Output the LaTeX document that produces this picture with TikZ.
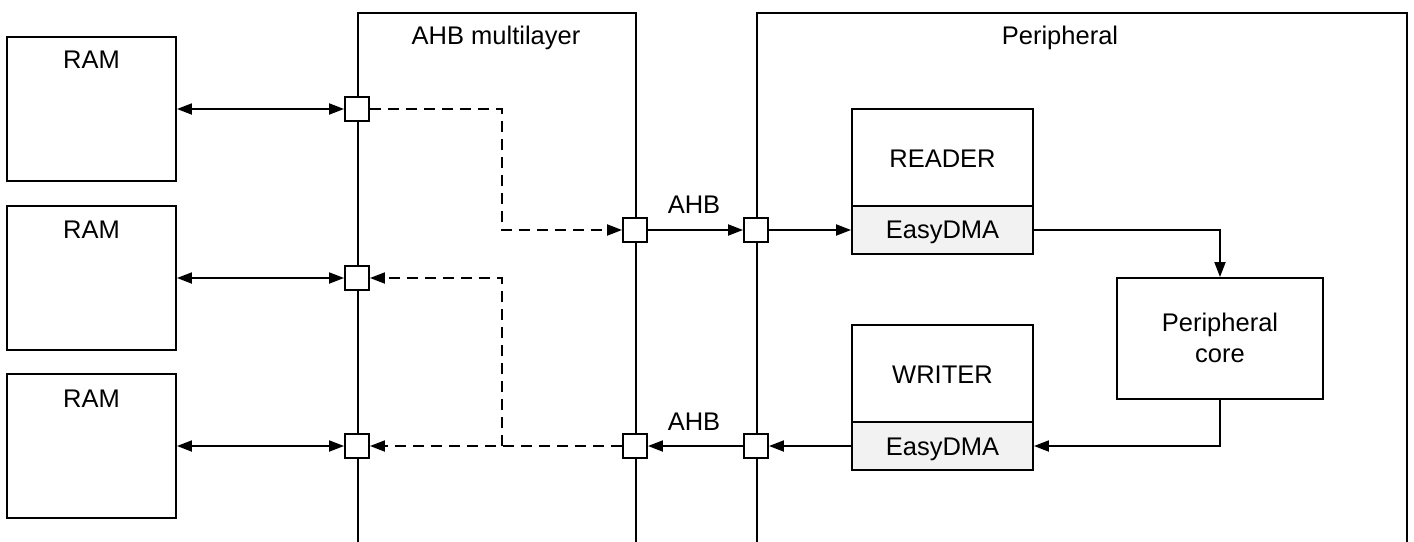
\documentclass[tikz,border=0pt]{standalone}
\usepackage{fontspec}
\setmainfont{Liberation Sans}
\usetikzlibrary{arrows.meta}
\definecolor{dmagray}{HTML}{F2F2F2}
\begin{document}
\begin{tikzpicture}[x=1pt,y=-1pt,line width=1.9pt,
  box/.style={draw,inner sep=0pt},
  frame/.style={draw,inner sep=0pt,minimum height=600pt},
  port/.style={draw,fill=white,minimum size=24pt,inner sep=0pt},
  dmabox/.style={draw,fill=dmagray,inner sep=0pt,minimum width=181pt,minimum height=48pt},
  lbl/.style={font=\fontsize{25.5}{30}\selectfont,anchor=base,inner sep=0pt},
  arr/.style={-{Triangle[length=15pt,width=11pt]}},
  darr/.style={{Triangle[length=15pt,width=11pt]}-{Triangle[length=15pt,width=11pt]}},
  dsh/.style={dash pattern=on 11pt off 7pt}]
\useasboundingbox (0,0) rectangle (1414,541);
\clip (0,0) rectangle (1414,541);
\fill[white] (0,0) rectangle (1414,541);

% frames
\node[frame,minimum width=278pt,anchor=north west] (ahb) at (357,12) {};
\node[frame,minimum width=650pt,anchor=north west] (per) at (756,12) {};
\node[lbl] (ahblbl) at (496,44) {AHB multilayer};
\node[lbl] (perlbl) at (1060,44) {Peripheral};

% RAMs
\node[box,minimum width=169pt,minimum height=144pt] (ram1) at (91.5,109) {};
\node[box,minimum width=169pt,minimum height=144pt] (ram2) at (91.5,278) {};
\node[box,minimum width=169pt,minimum height=144pt] (ram3) at (91.5,446) {};
\node[lbl] (ram1l) at (91.5,68) {RAM};
\node[lbl] (ram2l) at (91.5,238) {RAM};
\node[lbl] (ram3l) at (91.5,407) {RAM};

% reader / writer
\node[box,minimum width=181pt,minimum height=97pt] (rd) at (942.5,157.5) {};
\node[dmabox] (rddma) at (942.5,230) {};
\node[box,minimum width=181pt,minimum height=97pt] (wr) at (942.5,373.5) {};
\node[dmabox] (wrdma) at (942.5,446) {};
\node[lbl] (rdl) at (942.5,167) {READER};
\node[lbl] (rddmal) at (942.5,238) {EasyDMA};
\node[lbl] (wrl) at (942.5,383) {WRITER};
\node[lbl] (wrdmal) at (942.5,455) {EasyDMA};

% core
\node[box,minimum width=206pt,minimum height=121pt] (core) at (1220,338.5) {};
\node[lbl] (corel1) at (1220,331) {Peripheral};
\node[lbl] (corel2) at (1220,362) {core};

% ports
\node[port] (pa1) at (357,109) {};
\node[port] (pa2) at (357,278) {};
\node[port] (pa3) at (357,446) {};
\node[port] (pb1) at (635,230) {};
\node[port] (pb2) at (635,446) {};
\node[port] (pc1) at (756,230) {};
\node[port] (pc2) at (756,446) {};
\coordinate (jx) at (502,0);

% RAM links
\draw[darr] (ram1.east) -- (pa1.west);
\draw[darr] (ram2.east) -- (pa2.west);
\draw[darr] (ram3.east) -- (pa3.west);

% dashed internal routes
\draw[dsh,arr] (pa1.east) -- (pa1.east -| jx) |- (pb1.west);
\draw[dsh,arr] (pb2.west) -- (pa3.east);
\draw[dsh,arr] (pb2.west -| jx) |- (pa2.east);

% solid links
\draw[arr] (pb1.east) -- (pc1.west);
\draw[arr] (pc1.east) -- (rddma.west);
\draw[arr] (rddma.east) -| (core.north);
\draw[arr] (core.south) |- (wrdma.east);
\draw[arr] (wrdma.west) -- (pc2.east);
\draw[arr] (pc2.west) -- (pb2.east);

\node[lbl] (ahb1) at (694,213) {AHB};
\node[lbl] (ahb2) at (694,430) {AHB};
\end{tikzpicture}
\end{document}
